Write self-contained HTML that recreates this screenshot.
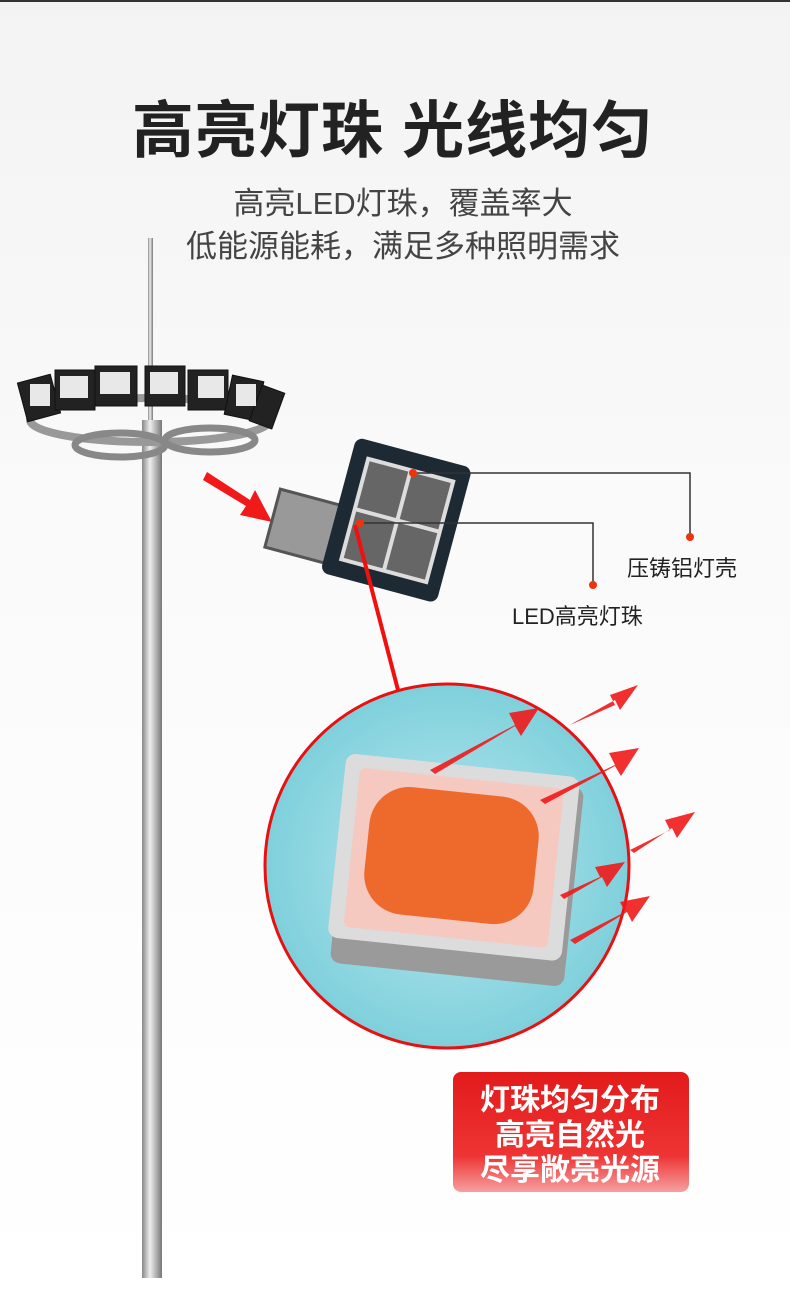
<!DOCTYPE html>
<html><head><meta charset="utf-8"><style>
body{margin:0;width:790px;height:1296px;overflow:hidden;background:linear-gradient(#f3f3f3,#fafafa 40%,#fff);font-family:"Liberation Sans","Noto Sans CJK SC",sans-serif;position:relative}
.t{position:absolute;left:0;width:790px;text-align:center;color:#222}
</style></head><body>
<div style="position:absolute;left:0;top:0;width:790px;height:2px;background:#333"></div>
<div class="t" style="top:80px;font-size:62px;font-weight:bold;letter-spacing:1px;left:-2px">高亮灯珠 光线均匀</div>
<div class="t" style="top:178px;font-size:31px;color:#444;left:8px">高亮LED灯珠，覆盖率大</div>
<div class="t" style="top:221px;font-size:31px;color:#444;left:8px">低能源能耗，满足多种照明需求</div>
<svg width="790" height="1296" style="position:absolute;left:0;top:0">
<defs>
<linearGradient id="pole" x1="0" x2="1"><stop offset="0" stop-color="#888"/><stop offset=".4" stop-color="#eee"/><stop offset="1" stop-color="#777"/></linearGradient>
<radialGradient id="cg" cx=".5" cy=".5" r=".5"><stop offset="0" stop-color="#b8e8ee"/><stop offset="1" stop-color="#7fd0dc"/></radialGradient>
<linearGradient id="rb" x1="0" y1="0" x2="0" y2="1"><stop offset="0" stop-color="#e21a1a"/><stop offset=".7" stop-color="#ee3434"/><stop offset="1" stop-color="#f6a0a0"/></linearGradient>
</defs>
<rect x="148" y="238" width="5" height="190" fill="url(#pole)"/>
<rect x="142" y="420" width="20" height="858" fill="url(#pole)"/>
<ellipse cx="150" cy="420" rx="120" ry="22" fill="none" stroke="#999" stroke-width="8"/>
<ellipse cx="120" cy="445" rx="45" ry="12" fill="none" stroke="#888" stroke-width="7"/>
<ellipse cx="210" cy="440" rx="45" ry="12" fill="none" stroke="#888" stroke-width="7"/>
<g fill="#222" stroke="#111">
<rect x="22" y="378" width="34" height="40" transform="rotate(-15 39 398)"/>
<rect x="55" y="370" width="40" height="40"/>
<rect x="95" y="366" width="42" height="40"/>
<rect x="145" y="366" width="40" height="40"/>
<rect x="188" y="370" width="40" height="40"/>
<rect x="228" y="378" width="32" height="40" transform="rotate(12 244 398)"/>
<rect x="255" y="388" width="24" height="38" transform="rotate(20 267 407)"/>
</g>
<g fill="#e8e8e8"><rect x="60" y="376" width="28" height="22"/><rect x="100" y="372" width="30" height="22"/><rect x="150" y="372" width="28" height="22"/><rect x="198" y="376" width="26" height="22"/><rect x="30" y="384" width="20" height="22"/><rect x="236" y="384" width="20" height="22"/></g>
<path d="M207 472 L250 500 L255 490 L272 522 L240 515 L246 506 L203 480Z" fill="#f01a1a"/>
<g transform="rotate(15 395 525)">
<rect x="275" y="520" width="90" height="60" fill="#999" stroke="#555" stroke-width="3"/>
<rect x="335" y="450" width="120" height="140" rx="8" fill="#1d2a33"/>
<rect x="350" y="466" width="92" height="108" fill="#ddd"/>
<g fill="#666"><rect x="354" y="470" width="40" height="48"/><rect x="398" y="470" width="40" height="48"/><rect x="354" y="522" width="40" height="48"/><rect x="398" y="522" width="40" height="48"/></g>
</g>
<line x1="355" y1="525" x2="398" y2="690" stroke="#f01010" stroke-width="4"/>
<g stroke="#333" stroke-width="1.5" fill="none"><path d="M413 473H690V537"/><path d="M360 523H593V585"/></g>
<g fill="#f0340a"><circle cx="413" cy="473" r="4"/><circle cx="690" cy="537" r="4"/><circle cx="360" cy="523" r="4"/><circle cx="593" cy="585" r="4"/></g>
<text x="627" y="576" font-size="22" fill="#222" font-family="Liberation Sans,Noto Sans CJK SC,sans-serif">压铸铝灯壳</text>
<text x="512" y="624" font-size="22" fill="#222" font-family="Liberation Sans,Noto Sans CJK SC,sans-serif">LED高亮灯珠</text>
<circle cx="447" cy="866" r="182" fill="url(#cg)" stroke="#e81010" stroke-width="3"/>
<g transform="rotate(6 455 870)">
<rect x="340" y="775" width="235" height="200" rx="10" fill="#9a9a9a"/>
<rect x="335" y="765" width="235" height="185" rx="10" fill="#dcdcdc"/>
<rect x="350" y="778" width="205" height="160" rx="6" fill="#f5c8c0"/>
<rect x="365" y="792" width="170" height="128" rx="40" fill="#ee6a2c"/>
</g>
<g fill="#f01a1a" opacity=".9">
<path d="M570 725l45-20-5-10 28-10-18 25-5-10-40 22z"/>
<path d="M430 770l85-45-6-12 30-5-18 28-6-10-80 48z"/>
<path d="M540 800l75-35-6-12 30-5-18 28-6-10-70 38z"/>
<path d="M560 895l40-18-5-10 30-5-18 25-5-10-38 22z"/>
<path d="M630 850l40-20-5-10 30-8-18 26-5-10-38 25z"/>
<path d="M570 940l55-28-5-10 30-6-18 26-5-10-52 32z"/>
</g>
<rect x="453" y="1072" width="236" height="120" rx="8" fill="url(#rb)"/>
<g font-size="30" font-weight="bold" fill="#fff" text-anchor="middle" font-family="Liberation Sans,Noto Sans CJK SC,sans-serif">
<text x="570" y="1110">灯珠均匀分布</text><text x="570" y="1145">高亮自然光</text><text x="570" y="1180">尽享敞亮光源</text></g>
</svg>
</body></html>
